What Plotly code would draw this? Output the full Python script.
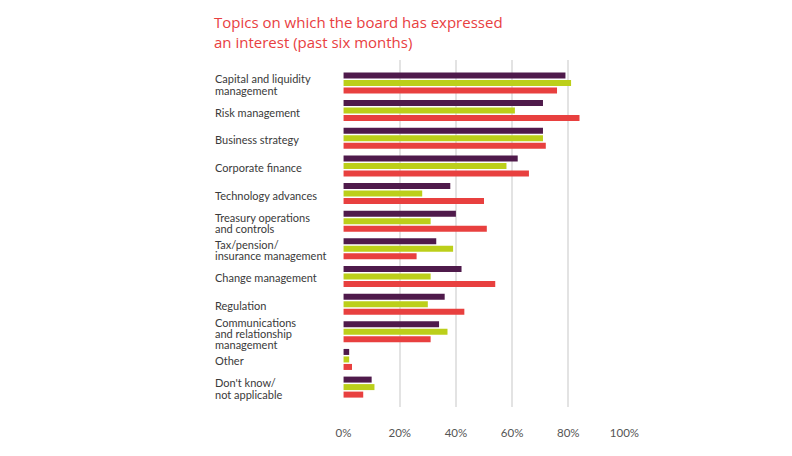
import plotly.graph_objects as go

categories = [
    "Capital and liquidity\nmanagement",
    "Risk management",
    "Business strategy",
    "Corporate finance",
    "Technology advances",
    "Treasury operations\nand controls",
    "Tax/pension/\ninsurance management",
    "Change management",
    "Regulation",
    "Communications\nand relationship\nmanagement",
    "Other",
    "Don't know/\nnot applicable",
]
series_a = [79, 71, 71, 62, 38, 40, 33, 42, 36, 34, 2, 10]
series_b = [81, 61, 71, 58, 28, 31, 39, 31, 30, 37, 2, 11]
series_c = [76, 84, 72, 66, 50, 51, 26, 54, 43, 31, 3, 7]
series_names = ["Series 1", "Series 2", "Series 3"]
colors = ["#4f1a4b", "#bccf1a", "#e8403f"]
tick_vals = [0, 20, 40, 60, 80, 100]
tick_text = ["0%", "20%", "40%", "60%", "80%", "100%"]
title_text = "Topics on which the board has expressed<br>an interest (past six months)"

LABEL_FONT = "Lato"
TITLE_FONT = "Open Sans"

# page is rendered with the browser's default 8px body margin
OFF = 8
W, H = 792 - OFF, 456 - OFF
PL, PR, PT, PB = 343.44, 624.56, 60, 407  # plot area in page pixels
PW, PH = PR - PL, PB - PT

fig = go.Figure()
for name, vals, col in zip(series_names, [series_a, series_b, series_c], colors):
    fig.add_trace(go.Bar(
        y=categories, x=vals, name=name, orientation="h",
        marker=dict(color=col, line=dict(width=0)),
        showlegend=False, hoverinfo="x+y",
    ))

# left-aligned category labels, one annotation per line
line_h = 11.2
for cat in categories:
    lines = cat.split("\n")
    n = len(lines)
    for i, ln in enumerate(lines):
        off = (i - (n - 1) / 2) * line_h
        fig.add_annotation(
            x=(215 - PL) / PW, xref="paper", xanchor="left",
            y=cat, yref="y", yanchor="middle", yshift=-off - 1.5,
            text=ln, showarrow=False, borderpad=0,
            font=dict(family=LABEL_FONT, size=11, color="#3a3a3a"),
        )

fig.add_annotation(
    x=(213 - PL) / PW, xref="paper", xanchor="left",
    y=1 + (PT - 32) / PH, yref="paper", yanchor="middle",
    text=title_text, showarrow=False, align="left",
    font=dict(family=TITLE_FONT, size=15, color="#e8403f"),
)

fig.update_layout(
    width=W, height=H,
    paper_bgcolor="white", plot_bgcolor="white",
    barmode="group", bargap=0.186, bargroupgap=0.2,
    margin=dict(l=PL - OFF, r=792 - PR, t=PT - OFF, b=456 - PB),
    font=dict(family=LABEL_FONT),
)
fig.update_xaxes(
    range=[-0.2, 100.2], tickvals=tick_vals, ticktext=tick_text,
    showgrid=True, gridcolor="#e3e3e3", gridwidth=1.5,
    zeroline=False, showline=False,
    ticks="outside", ticklen=15, tickcolor="rgba(0,0,0,0)",
    tickfont=dict(family=LABEL_FONT, size=11.5, color="#555555"),
    fixedrange=True,
)
fig.update_yaxes(
    range=[11.72, -0.83], showticklabels=False, showgrid=False,
    zeroline=False, showline=False, fixedrange=True,
)

fig.write_html("out.html")
